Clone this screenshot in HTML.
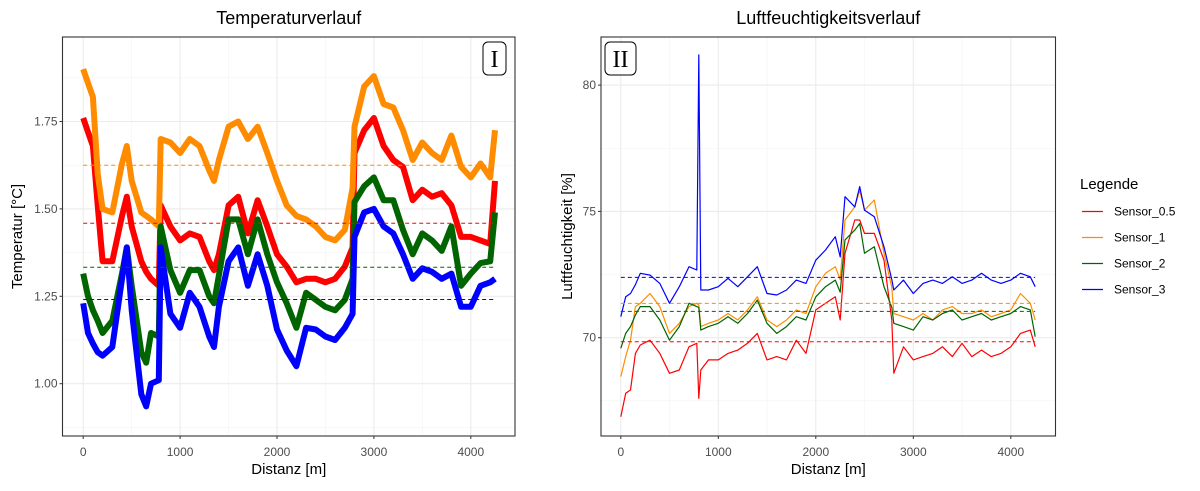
<!DOCTYPE html>
<html><head><meta charset="utf-8">
<style>
html,body{margin:0;padding:0;background:#fff;}
svg text{font-family:"Liberation Sans",Arial,sans-serif;}
</style></head>
<body>
<svg id="chart" width="1200" height="486" viewBox="0 0 1200 486" xmlns="http://www.w3.org/2000/svg">
<rect x="0" y="0" width="1200" height="486" fill="#fff"/>
<g id="left"></g>
<g id="right"></g>
<g id="legend"></g>
</svg>
<script>
const tempDist=[0,50,100,150,200,300,400,450,500,600,650,700,780,800,900,1000,1100,1200,1300,1350,1400,1500,1600,1700,1800,1900,2000,2100,2200,2300,2400,2500,2600,2700,2780,2800,2900,3000,3100,3200,3300,3400,3500,3600,3700,3800,3900,4000,4100,4200,4250];
const tempS1=[1.90,1.86,1.82,1.60,1.50,1.49,1.63,1.68,1.58,1.49,1.48,1.47,1.45,1.70,1.69,1.66,1.70,1.68,1.61,1.58,1.64,1.735,1.75,1.70,1.735,1.66,1.58,1.51,1.48,1.47,1.45,1.42,1.41,1.44,1.56,1.735,1.85,1.88,1.80,1.79,1.725,1.64,1.69,1.66,1.64,1.71,1.62,1.59,1.63,1.59,1.725];
const tempS05=[1.76,1.72,1.68,1.51,1.35,1.35,1.48,1.535,1.45,1.35,1.32,1.30,1.28,1.51,1.45,1.41,1.43,1.42,1.35,1.325,1.37,1.51,1.535,1.43,1.525,1.45,1.37,1.335,1.29,1.30,1.30,1.29,1.30,1.335,1.39,1.66,1.725,1.76,1.68,1.64,1.62,1.525,1.555,1.535,1.545,1.51,1.42,1.42,1.41,1.40,1.58];
const tempS2=[1.315,1.25,1.21,1.18,1.145,1.18,1.315,1.39,1.28,1.09,1.06,1.145,1.135,1.45,1.325,1.26,1.325,1.325,1.25,1.23,1.31,1.47,1.47,1.37,1.47,1.37,1.29,1.23,1.16,1.26,1.24,1.22,1.21,1.24,1.30,1.52,1.565,1.59,1.525,1.525,1.44,1.37,1.43,1.41,1.38,1.45,1.28,1.315,1.345,1.35,1.49];
const tempS3=[1.23,1.145,1.115,1.09,1.08,1.105,1.30,1.39,1.21,0.97,0.935,1.00,1.01,1.39,1.20,1.16,1.26,1.22,1.135,1.105,1.22,1.35,1.39,1.28,1.37,1.28,1.155,1.095,1.05,1.16,1.155,1.135,1.125,1.16,1.20,1.42,1.49,1.50,1.45,1.43,1.37,1.30,1.33,1.32,1.30,1.315,1.22,1.22,1.28,1.29,1.30];
const tempMeans=[1.459,1.625,1.333,1.241];

const humDist=[0,50,100,150,200,300,400,500,600,700,780,800,820,900,1000,1100,1200,1300,1400,1500,1600,1700,1800,1900,2000,2100,2200,2250,2300,2400,2450,2500,2600,2700,2780,2800,2900,3000,3100,3200,3300,3400,3500,3600,3700,3800,3900,4000,4100,4200,4250];
const humS3=[70.83,71.62,71.75,72.1,72.55,72.48,72.15,71.36,72.02,72.81,72.68,81.2,71.89,71.89,72.02,72.35,72.02,72.41,72.81,71.75,71.69,71.89,72.28,72.15,73.07,73.47,74.0,73.2,75.58,75.18,75.98,75.05,74.79,73.6,72.3,71.89,72.28,71.75,72.15,72.28,72.15,72.41,72.15,72.28,72.55,72.28,72.15,72.28,72.55,72.41,72.02];
const humS1=[68.46,69.25,69.9,71.23,71.36,71.75,71.23,70.17,70.57,71.23,71.36,71.3,70.44,70.57,70.7,70.96,70.7,71.1,71.62,70.7,70.44,70.7,71.1,70.96,72.02,72.55,72.81,72.3,74.66,75.18,75.84,75.05,75.45,73.34,72.0,70.96,70.83,70.7,70.96,70.7,71.1,71.23,70.96,70.96,71.1,70.83,70.96,71.1,71.75,71.36,70.7];
const humS2=[69.58,70.17,70.44,70.9,71.23,71.23,70.7,69.9,70.44,71.36,71.23,71.2,70.3,70.44,70.57,70.83,70.57,70.96,71.49,70.57,70.17,70.44,70.83,70.7,71.62,72.02,72.28,71.8,73.87,74.26,74.52,73.34,73.6,72.02,71.2,70.57,70.44,70.3,70.83,70.7,70.96,71.1,70.7,70.83,70.96,70.7,70.83,70.96,71.23,71.1,70.04];
const humS05=[66.87,67.8,67.93,69.38,69.71,69.9,69.38,68.59,68.72,69.64,69.78,67.6,68.72,69.12,69.12,69.38,69.51,69.78,70.17,69.12,69.25,69.12,69.9,69.38,71.1,71.36,71.62,70.7,73.34,74.66,74.66,74.13,74.13,73.07,70.7,68.59,69.64,69.12,69.25,69.38,69.64,69.25,69.78,69.25,69.51,69.25,69.38,69.64,70.17,70.3,69.64];
const humMeans=[69.84,71.36,71.04,72.39];

const seriesNames=["Sensor_0.5","Sensor_1","Sensor_2","Sensor_3"];
const seriesColors=["#ff0000","#ff8c00","#006400","#0000ff"];
const xTicks=[0,1000,2000,3000,4000];
const xMinor=[500,1500,2500,3500];
const tempTicks=[1.00,1.25,1.50,1.75];
const tempTickLabels=["1.00","1.25","1.50","1.75"];
const tempMinor=[0.875,1.125,1.375,1.625,1.875];
const humTicks=[70,75,80];
const humTickLabels=["70","75","80"];
const humMinor=[67.5,72.5,77.5];

const NS="http://www.w3.org/2000/svg";
function mk(parent,tag,attrs,text){const e=document.createElementNS(NS,tag);for(const k in attrs)e.setAttribute(k,attrs[k]);if(text!==undefined)e.textContent=text;parent.appendChild(e);return e;}

function panel(g,cfg){
  const {x0,x1,y0,y1,xs,ys}=cfg;
  mk(g,'rect',{x:x0,y:y0,width:x1-x0,height:y1-y0,fill:'#fff'});
  cfg.yMinor.forEach(v=>{const l=mk(g,'line',{x1:x0,x2:x1,y1:ys(v),y2:ys(v),stroke:'#f3f3f3','stroke-width':0.6});});
  xMinor.forEach(v=>{const l=mk(g,'line',{x1:xs(v),x2:xs(v),y1:y0,y2:y1,stroke:'#f3f3f3','stroke-width':0.6});});
  cfg.yTicks.forEach(v=>{const l=mk(g,'line',{x1:x0,x2:x1,y1:ys(v),y2:ys(v),stroke:'#ebebeb','stroke-width':1.1});});
  xTicks.forEach(v=>{const l=mk(g,'line',{x1:xs(v),x2:xs(v),y1:y0,y2:y1,stroke:'#ebebeb','stroke-width':1.1});});
  // series
  cfg.series.forEach((vals,i)=>{
    const d=cfg.dist.map((dd,j)=>(j?'L':'M')+xs(dd).toFixed(1)+','+ys(vals[j]).toFixed(1)).join('');
    const p=mk(g,'path',{d:d,fill:'none',stroke:seriesColors[i],'stroke-width':cfg.sw,'stroke-linejoin':'round'});
    
    
  });
  cfg.means.forEach((m,i)=>{
    const l=mk(g,'line',{x1:xs(0),x2:xs(4250),y1:ys(m),y2:ys(m),stroke:seriesColors[i],'stroke-width':1,'stroke-dasharray':'4,3'});
    
    
  });
  const fr=mk(g,'rect',{x:x0,y:y0,width:x1-x0,height:y1-y0,fill:'none',stroke:'#333','stroke-width':1.1});
  
  xTicks.forEach(v=>{
    mk(g,'line',{x1:xs(v),x2:xs(v),y1:y1,y2:y1+3,stroke:'#333','stroke-width':1});
    const t=mk(g,'text',{x:xs(v),y:y1+20,'text-anchor':'middle','font-size':12,fill:'#4d4d4d'},String(v));
    
  });
  cfg.yTicks.forEach((v,i)=>{
    mk(g,'line',{x1:x0-3,x2:x0,y1:ys(v),y2:ys(v),stroke:'#333','stroke-width':1});
    const t=mk(g,'text',{x:x0-5,y:ys(v)+4,'text-anchor':'end','font-size':12,fill:'#4d4d4d'},cfg.yLabels[i]);
    
  });
  const tt=mk(g,'text',{x:(x0+x1)/2,y:24,'text-anchor':'middle','font-size':18,fill:'#000'},cfg.title);
  
  const xt=mk(g,'text',{x:(x0+x1)/2,y:474,'text-anchor':'middle','font-size':15,fill:'#000'},'Distanz [m]');
  
  const yt=mk(g,'text',{x:0,y:0,'text-anchor':'middle','font-size':15,fill:'#000',transform:`translate(${cfg.ylx},${(y0+y1)/2}) rotate(-90)`},cfg.ylabel);
  
  const b=mk(g,'rect',{x:cfg.bx,y:42,width:cfg.bw,height:33,rx:5,fill:'#fff',stroke:'#000','stroke-width':1});
  
  const bt=mk(g,'text',{x:cfg.bx+cfg.bw/2,y:67,'text-anchor':'middle','font-size':24,fill:'#000','font-family':'Liberation Serif, serif'},cfg.tag);
  
  bt.style.fontFamily='"Liberation Serif",serif';
}

// Left
const Lx=d=>83.2+d*0.0969;
const Ly=v=>296.3-(v-1.25)*349.6;
panel(document.getElementById('left'),{x0:62.5,x1:515,y0:37,y1:436,xs:Lx,ys:Ly,dist:tempDist,series:[tempS05,tempS1,tempS2,tempS3],means:tempMeans,yTicks:tempTicks,yLabels:tempTickLabels,yMinor:tempMinor,sw:6,title:'Temperaturverlauf',ylabel:'Temperatur [°C]',ylx:22,bx:483,bw:23,tag:'I'});
// Right
const Rx=d=>620.8+d*0.0975;
const Ry=v=>337.7-(v-70)*25.26;
panel(document.getElementById('right'),{x0:601,x1:1055.5,y0:37,y1:436,xs:Rx,ys:Ry,dist:humDist,series:[humS05,humS1,humS2,humS3],means:humMeans,yTicks:humTicks,yLabels:humTickLabels,yMinor:humMinor,sw:1.2,title:'Luftfeuchtigkeitsverlauf',ylabel:'Luftfeuchtigkeit [%]',ylx:572,bx:605,bw:31,tag:'II'});

// Legend
const lg=document.getElementById('legend');
const lt=mk(lg,'text',{x:1080,y:189,'font-size':15,fill:'#000'},'Legende');

seriesNames.forEach((n,i)=>{
  const y=211.5+i*26;
  const e=mk(lg,'g',{});
  
  
  mk(e,'line',{x1:1082,x2:1103,y1:y,y2:y,stroke:seriesColors[i],'stroke-width':1.2});
  mk(e,'text',{x:1114,y:y+4,'font-size':12,fill:'#000'},n);
});
</script>
</body></html>
